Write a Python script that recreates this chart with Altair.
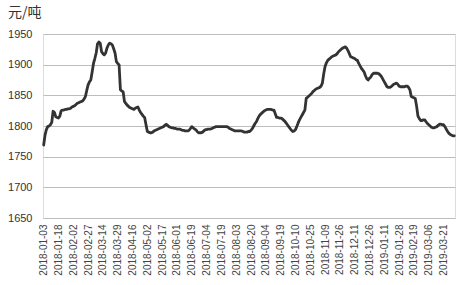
import altair as alt
import pandas as pd

tick_labels = [
    "2018-01-03", "2018-01-18", "2018-02-02", "2018-02-27", "2018-03-14",
    "2018-03-29", "2018-04-16", "2018-05-02", "2018-05-17", "2018-06-01",
    "2018-06-19", "2018-07-04", "2018-07-19", "2018-08-03", "2018-08-20",
    "2018-09-04", "2018-09-19", "2018-10-10", "2018-10-25", "2018-11-09",
    "2018-11-26", "2018-12-11", "2018-12-26", "2019-01-11", "2019-01-28",
    "2019-02-19", "2019-03-06", "2019-03-21",
]
label_step = 11

prices = [
    1769, 1785, 1794, 1799, 1800, 1802, 1806, 1824, 1822, 1815,
    1814, 1813, 1816, 1825, 1826, 1826, 1827, 1827, 1828, 1828,
    1829, 1831, 1832, 1833, 1835, 1837, 1838, 1839, 1840, 1841,
    1844, 1848, 1858, 1867, 1872, 1875, 1888, 1902, 1910, 1919,
    1934, 1937, 1935, 1921, 1918, 1916, 1919, 1927, 1932, 1935,
    1934, 1932, 1926, 1919, 1905, 1902, 1900, 1859, 1857, 1856,
    1840, 1837, 1834, 1832, 1830, 1829, 1828, 1827, 1829, 1830,
    1831, 1826, 1822, 1819, 1816, 1814, 1802, 1791, 1790, 1789,
    1789, 1790, 1792, 1793, 1794, 1795, 1796, 1797, 1798, 1799,
    1801, 1803, 1801, 1799, 1798, 1797, 1797, 1796, 1796, 1795,
    1795, 1795, 1794, 1793, 1793, 1792, 1792, 1792, 1793, 1796,
    1799, 1797, 1795, 1794, 1791, 1789, 1789, 1789, 1790, 1792,
    1794, 1794, 1795, 1795, 1795, 1796, 1797, 1798, 1799, 1799,
    1799, 1799, 1799, 1799, 1799, 1799, 1799, 1798, 1796, 1795,
    1794, 1793, 1792, 1792, 1792, 1792, 1792, 1792, 1791, 1790,
    1790, 1790, 1791, 1791, 1793, 1796, 1800, 1804, 1807, 1812,
    1816, 1819, 1821, 1823, 1825, 1826, 1827, 1827, 1827, 1827,
    1826, 1826, 1820, 1814, 1814, 1813, 1813, 1812, 1810, 1808,
    1805, 1802, 1799, 1796, 1793, 1791, 1792, 1794, 1799, 1805,
    1810, 1814, 1818, 1822, 1826, 1845, 1847, 1849, 1851, 1853,
    1856, 1858, 1860, 1861, 1862, 1863, 1865, 1870, 1885, 1897,
    1903, 1907, 1909, 1911, 1913, 1914, 1915, 1916, 1918, 1921,
    1923, 1925, 1927, 1928, 1929, 1927, 1923, 1918, 1913, 1912,
    1911, 1910, 1908, 1907, 1902, 1898, 1894, 1891, 1888, 1882,
    1877, 1875, 1878, 1880, 1884, 1886, 1886, 1886, 1886, 1885,
    1883, 1880, 1876, 1872, 1868, 1864, 1863, 1863, 1864, 1866,
    1868, 1869, 1870, 1868, 1865, 1864, 1864, 1864, 1864, 1865,
    1865, 1863, 1859, 1848, 1847, 1846, 1845, 1832, 1816, 1812,
    1809, 1809, 1810, 1810, 1807, 1804, 1802, 1800, 1798, 1797,
    1797, 1798, 1799, 1801, 1803, 1803, 1802, 1802, 1799, 1795,
    1791, 1788, 1786, 1785, 1784, 1784,
]

y_ticks = [1650, 1700, 1750, 1800, 1850, 1900, 1950]
unit_label = "元/吨"

df = pd.DataFrame({"idx": list(range(len(prices))), "price": prices})
tick_positions = [i * label_step for i in range(len(tick_labels))]
label_expr = "[" + ",".join(f"'{t}'" for t in tick_labels) + f"][round(datum.value / {label_step})]"

FONT = "Liberation Sans"

line = (
    alt.Chart(df)
    .mark_line(color="#333333", strokeWidth=2.8, strokeJoin="round", strokeCap="round")
    .encode(
        x=alt.X(
            "idx:Q",
            scale=alt.Scale(domain=[-0.5, len(prices) - 0.5], nice=False, zero=False),
            axis=alt.Axis(
                values=tick_positions,
                labelExpr=label_expr,
                labelAngle=270,
                labelAlign="right",
                labelBaseline="middle",
                labelFontSize=10,
                labelFont=FONT,
                labelColor="#444444",
                labelPadding=6,
                ticks=False,
                domain=False,
                grid=False,
                title=None,
                labelOverlap=False,
            ),
        ),
        y=alt.Y(
            "price:Q",
            scale=alt.Scale(domain=[1650, 1950], nice=False, zero=False),
            axis=alt.Axis(
                values=y_ticks,
                format="d",
                labelFontSize=11,
                labelFont=FONT,
                labelColor="#333333",
                labelPadding=11,
                ticks=False,
                domain=False,
                grid=True,
                gridColor="#bdbdbd",
                gridWidth=1,
                title=None,
            ),
        ),
    )
)

unit = (
    alt.Chart(pd.DataFrame({"t": [unit_label]}))
    .mark_text(
        align="left",
        baseline="top",
        font="Noto Sans CJK SC",
        fontSize=14,
        color="#333333",
    )
    .encode(x=alt.value(-35), y=alt.value(-28), text="t:N")
)

chart = (
    alt.layer(line, unit)
    .properties(
        width=412,
        height=184,
        autosize=alt.AutoSizeParams(type="none"),
        padding={"left": 43, "top": 34, "right": 5, "bottom": 67},
    )
    .configure_view(stroke=None)
    .configure(background="white")
)

chart.save("out.html", embed_options={"renderer": "svg", "actions": False})
